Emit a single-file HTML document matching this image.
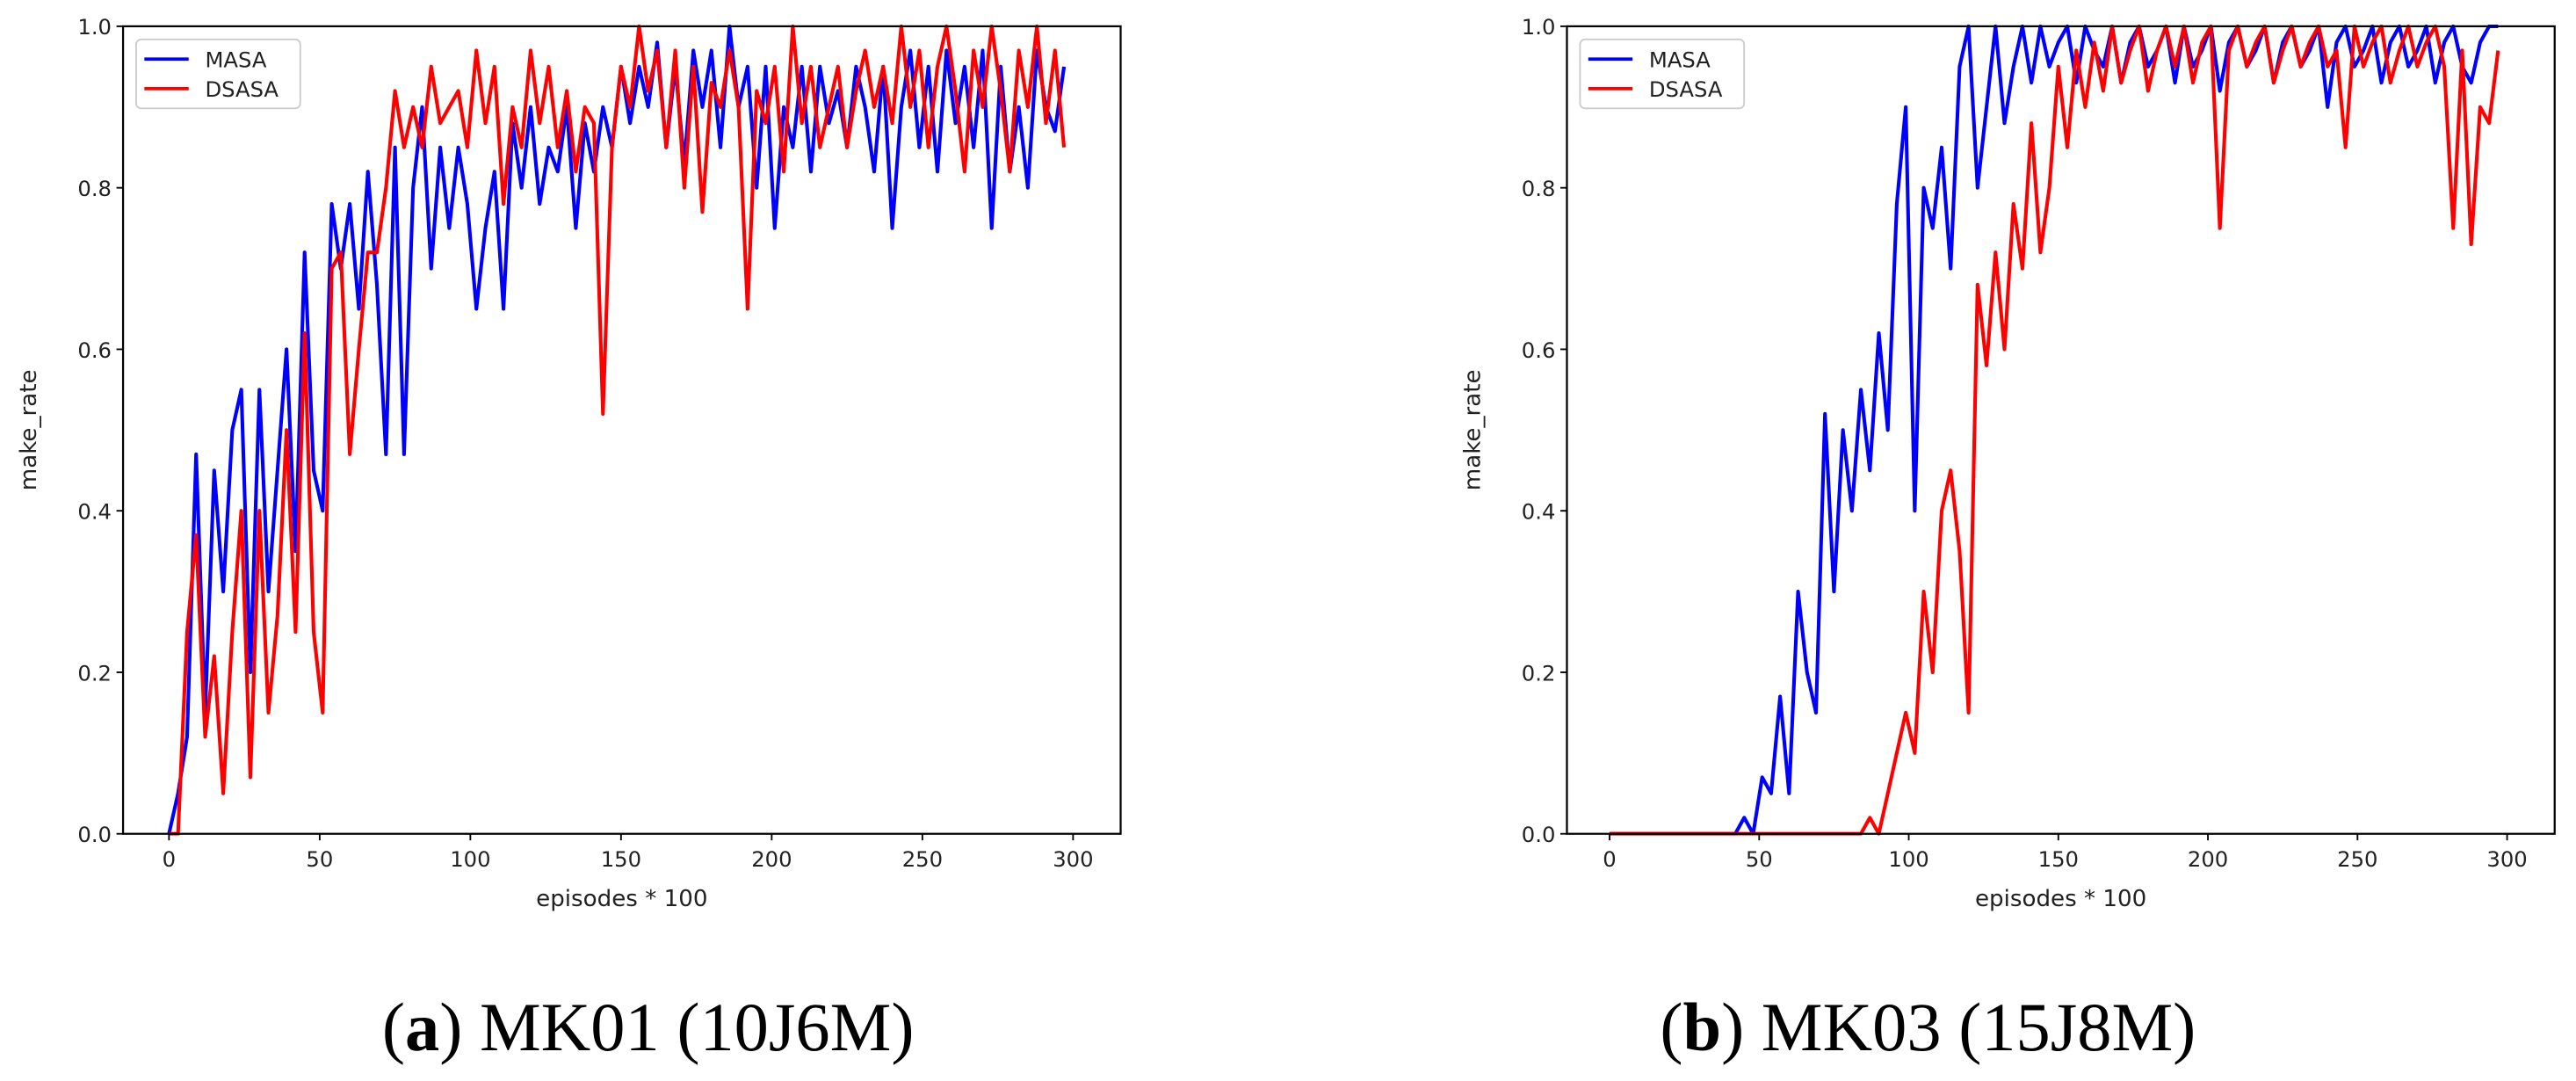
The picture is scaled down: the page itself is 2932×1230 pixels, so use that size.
<!DOCTYPE html>
<html><head><meta charset="utf-8"><style>
html,body{margin:0;padding:0;background:#fff;}
svg{display:block;font-family:"DejaVu Sans","Liberation Sans",sans-serif;}
</style></head><body>
<svg id="fig" width="2932" height="1230" viewBox="0 0 1570 658.6" xmlns="http://www.w3.org/2000/svg">
<text x="395" y="640" font-family="Liberation Serif, serif" font-size="42" text-anchor="middle">(<tspan font-weight="bold">a</tspan>) MK01 (10J6M)</text>
<text x="1175" y="640" font-family="Liberation Serif, serif" font-size="42" text-anchor="middle">(<tspan font-weight="bold">b</tspan>) MK03 (15J8M)</text>
</svg>
<script>
const xsA = [0,3,6,9,12,15,18,21,24,27,30,33,36,39,42,45,48,51,54,57,60,63,66,69,72,75,78,81,84,87,90,93,96,99,102,105,108,111,114,117,120,123,126,129,132,135,138,141,144,147,150,153,156,159,162,165,168,171,174,177,180,183,186,189,192,195,198,201,204,207,210,213,216,219,222,225,228,231,234,237,240,243,246,249,252,255,258,261,264,267,270,273,276,279,282,285,288,291,294,297];
const leftMasa = [0,0.05,0.12,0.47,0.15,0.45,0.3,0.5,0.55,0.2,0.55,0.3,0.45,0.6,0.35,0.72,0.45,0.4,0.78,0.7,0.78,0.65,0.82,0.68,0.47,0.85,0.47,0.8,0.9,0.7,0.85,0.75,0.85,0.78,0.65,0.75,0.82,0.65,0.88,0.8,0.9,0.78,0.85,0.82,0.9,0.75,0.88,0.82,0.9,0.85,0.95,0.88,0.95,0.9,0.98,0.85,0.95,0.83,0.97,0.9,0.97,0.85,1.0,0.9,0.95,0.8,0.95,0.75,0.9,0.85,0.95,0.82,0.95,0.88,0.92,0.85,0.95,0.9,0.82,0.95,0.75,0.9,0.97,0.85,0.95,0.82,0.97,0.88,0.95,0.85,0.97,0.75,0.95,0.82,0.9,0.8,0.97,0.9,0.87,0.95];
const leftDsasa = [0,0,0.25,0.37,0.12,0.22,0.05,0.25,0.4,0.07,0.4,0.15,0.27,0.5,0.25,0.62,0.25,0.15,0.7,0.72,0.47,0.6,0.72,0.72,0.8,0.92,0.85,0.9,0.85,0.95,0.88,0.9,0.92,0.85,0.97,0.88,0.95,0.78,0.9,0.85,0.97,0.88,0.95,0.85,0.92,0.82,0.9,0.88,0.52,0.85,0.95,0.9,1.0,0.92,0.97,0.85,0.97,0.8,0.95,0.77,0.93,0.9,0.97,0.9,0.65,0.92,0.88,0.95,0.82,1.0,0.88,0.95,0.85,0.9,0.95,0.85,0.92,0.97,0.9,0.95,0.88,1.0,0.9,0.97,0.85,0.95,1.0,0.92,0.82,0.97,0.9,1.0,0.92,0.82,0.97,0.9,1.0,0.88,0.97,0.85];
const rightMasa = [0,0,0,0,0,0,0,0,0,0,0,0,0,0,0,0.02,0,0.07,0.05,0.17,0.05,0.3,0.2,0.15,0.52,0.3,0.5,0.4,0.55,0.45,0.62,0.5,0.78,0.9,0.4,0.8,0.75,0.85,0.7,0.95,1.0,0.8,0.9,1.0,0.88,0.95,1.0,0.93,1.0,0.95,0.98,1.0,0.93,1.0,0.97,0.95,1.0,0.93,0.98,1.0,0.95,0.97,1.0,0.93,1.0,0.95,0.97,1.0,0.92,0.98,1.0,0.95,0.97,1.0,0.93,0.98,1.0,0.95,0.97,1.0,0.9,0.98,1.0,0.95,0.97,1.0,0.93,0.98,1.0,0.95,0.97,1.0,0.93,0.98,1.0,0.95,0.93,0.98,1.0,1.0];
const rightDsasa = [0,0,0,0,0,0,0,0,0,0,0,0,0,0,0,0,0,0,0,0,0,0,0,0,0,0,0,0,0,0.02,0,0.05,0.1,0.15,0.1,0.3,0.2,0.4,0.45,0.35,0.15,0.68,0.58,0.72,0.6,0.78,0.7,0.88,0.72,0.8,0.95,0.85,0.97,0.9,0.98,0.92,1.0,0.93,0.97,1.0,0.92,0.97,1.0,0.95,1.0,0.93,0.98,1.0,0.75,0.97,1.0,0.95,0.98,1.0,0.93,0.97,1.0,0.95,0.98,1.0,0.95,0.97,0.85,1.0,0.95,0.98,1.0,0.93,0.97,1.0,0.95,0.98,1.0,0.95,0.75,0.97,0.73,0.9,0.88,0.97];
const xTicks = [0,50,100,150,200,250,300];
const yTicks = [0,0.2,0.4,0.6,0.8,1.0];

const NS='http://www.w3.org/2000/svg';
const svg=document.getElementById('fig');
function mk(tag,attrs,parent){const e=document.createElementNS(NS,tag);for(const k in attrs)e.setAttribute(k,attrs[k]);(parent||svg).appendChild(e);return e;}

function chart(prefix,box,x0px,x300px,masa,dsasa){
  const [L,T,R,B]=box;
  const g=mk('g',{});
  
  
  const xs=v=>x0px+(x300px-x0px)*v/300;
  const ys=v=>B-(B-T)*v;
  const clip=mk('clipPath',{id:prefix+'clip'},g);
  mk('rect',{x:L,y:T-1,width:R-L,height:B-T+2},clip);
  function line(data,color,name){
    const p=mk('polyline',{points:xsA.map((x,i)=>xs(x)+','+ys(data[i])).join(' '),fill:'none',stroke:color,'stroke-width':2.2,'stroke-linejoin':'round','clip-path':'url(#'+prefix+'clip)'},g);
    
    
  }
  line(masa,'#0000ff',prefix+'-masa-line');
  line(dsasa,'#ff0000',prefix+'-dsasa-line');
  const fr=mk('rect',{x:L,y:T,width:R-L,height:B-T,fill:'none',stroke:'#000','stroke-width':1.2},g);
  
  
  xTicks.forEach(t=>{
    const x=xs(t);
    mk('line',{x1:x,x2:x,y1:B,y2:B+4,stroke:'#000'},g);
    const tx=mk('text',{x:x,y:B+20,'font-size':13,'text-anchor':'middle',fill:'#222'},g);
    tx.textContent=t;
    
    
  });
  yTicks.forEach(t=>{
    const y=ys(t);
    mk('line',{x1:L-4,x2:L,y1:y,y2:y,stroke:'#000'},g);
    const tx=mk('text',{x:L-7,y:y+5,'font-size':13,'text-anchor':'end',fill:'#222'},g);
    tx.textContent=t.toFixed(1);
    
    
  });
  const xl=mk('text',{x:(L+R)/2,y:B+44,'font-size':14,'text-anchor':'middle',fill:'#222'},g);
  xl.textContent='episodes * 100';
  
  
  const yl=mk('text',{x:0,y:0,'font-size':14,'text-anchor':'middle',fill:'#222',transform:'translate('+(L-53)+','+((T+B)/2)+') rotate(-90)'},g);
  yl.textContent='make_rate';
  
  
  const lg=mk('g',{},g);
  
  
  mk('rect',{x:L+8,y:T+8,width:100,height:42,rx:3,fill:'#fff',stroke:'#ccc'},lg);
  [['MASA','#0000ff'],['DSASA','#ff0000']].forEach((e,i)=>{
    const y=T+20+i*18;
    mk('line',{x1:L+13,x2:L+40,y1:y,y2:y,stroke:e[1],'stroke-width':2},lg);
    const t=mk('text',{x:L+50,y:y+5,'font-size':13,fill:'#222'},lg);
    t.textContent=e[0];
    
    
  });
}
chart('left',[75,16,683,508],103,654,leftMasa,leftDsasa);
chart('right',[955,16,1557,508],981,1528,rightMasa,rightDsasa);
</script>
</body></html>
